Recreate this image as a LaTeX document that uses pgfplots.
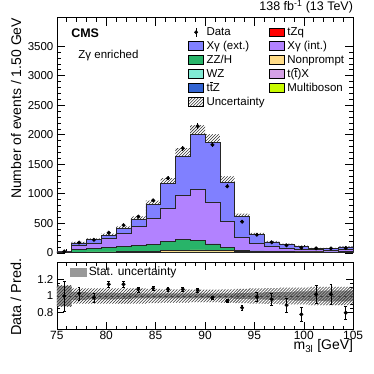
\documentclass[border=0pt]{standalone}
\usepackage{fontspec}
\setmainfont{Liberation Sans}
\usepackage{pgfplots}
\pgfplotsset{compat=1.18}
\usepackage{pgfplotstable}
\usepgfplotslibrary{fillbetween}
\usetikzlibrary{patterns}

\definecolor{cxext}{RGB}{128,128,255}
\definecolor{cxint}{RGB}{178,130,255}
\definecolor{czz}{RGB}{40,180,105}
\definecolor{cwz}{RGB}{128,235,212}
\definecolor{cttz}{RGB}{50,100,210}
\definecolor{ctzq}{RGB}{255,0,0}
\definecolor{cnp}{RGB}{255,220,135}
\definecolor{cttx}{RGB}{212,160,230}
\definecolor{cmb}{RGB}{200,250,0}

% denser ROOT-like hatching
\pgfdeclarepatternformonly{hatch}{\pgfqpoint{-1pt}{-1pt}}{\pgfqpoint{4pt}{4pt}}{\pgfqpoint{3pt}{3pt}}{%
  \pgfsetlinewidth{0.55pt}
  \pgfpathmoveto{\pgfqpoint{-0.1pt}{-0.1pt}}
  \pgfpathlineto{\pgfqpoint{3.1pt}{3.1pt}}
  \pgfusepath{stroke}}

% stacked MC per bin (left edge), last row repeats the last bin
\pgfplotstableread{
x     mb   ttx  ttz  tzq  wz   np  zz   xint xext stat  tot
75.0  1.2  0.45 0.45 0.3  0.6  2   3    6    8    0.12  0.13
76.5  2.0  0.75 0.75 0.5  1.0  7   43   74   39   0.05  0.09
78.0  2.4  0.9  0.9  0.6  1.2  8   56   87   68   0.04  0.09
79.5  2.8  1.05 1.05 0.7  1.4  9   79   147  56   0.04  0.09
81.0  3.2  1.2  1.2  0.8  1.6  10  92   216  84   0.035 0.09
82.5  3.6  1.35 1.35 0.9  1.8  11  110  320  117  0.03  0.09
84.0  4.0  1.5  1.5  1.0  2.0  14  121  434  236  0.03  0.085
85.5  4.8  1.8  1.8  1.2  2.4  28  155  564  410  0.03  0.08
87.0  5.6  2.1  2.1  1.4  2.8  31  185  737  673  0.03  0.08
88.5  6.0  2.25 2.25 1.5  3.0  33  167  853  938  0.03  0.075
90.0  5.6  2.1  2.1  1.4  2.8  28  108  710  1005 0.03  0.075
91.5  5.2  1.95 1.95 1.3  2.6  23  59   439  663  0.03  0.08
93.0  4.8  1.8  1.8  1.2  2.4  14  14   224  348  0.035 0.085
94.5  4.0  1.5  1.5  1.0  2.0  12  10   125  152  0.04  0.09
96.0  3.6  1.35 1.35 0.9  1.8  11  8    84   73   0.045 0.095
97.5  3.2  1.2  1.2  0.8  1.6  14  4    58   56   0.05  0.1
99.0  3.2  1.2  1.2  0.8  1.6  8   6    45   45   0.055 0.1
100.5 2.8  1.05 1.05 0.7  1.4  7   6    36   17   0.06  0.11
102.0 2.4  0.9  0.9  0.6  1.2  6   5    34   22   0.065 0.11
103.5 2.8  1.05 1.05 0.7  1.4  6   6    37   45   0.065 0.11
105.0 2.8  1.05 1.05 0.7  1.4  6   6    37   45   0.065 0.11
}\bins

% data at bin centres
\pgfplotstableread{
x      data derr r    rerr
75.75  22   4.7  1.00 0.18
77.25  173  13   1.03 0.08
78.75  220  15   0.98 0.05
80.25  340  18   1.14 0.04
81.75  467  22   1.14 0.035
83.25  612  25   1.08 0.03
84.75  888  30   1.09 0.025
86.25  1263 36   1.08 0.02
87.75  1771 42   1.08 0.02
89.25  2146 46   1.07 0.02
90.75  1828 43   0.98 0.02
92.25  1125 34   0.94 0.02
93.75  526  23   0.86 0.03
95.25  306  17.5 0.99 0.05
96.75  178  13   0.96 0.07
98.25  125  11   0.89 0.08
99.75  87   9    0.78 0.08
101.25 74   8.6  1.02 0.11
102.75 74   8.6  1.02 0.12
104.25 81   9    0.80 0.08
}\datatab

\newcommand{\cA}{\thisrow{mb}}
\newcommand{\cB}{\cA+\thisrow{ttx}}
\newcommand{\cC}{\cB+\thisrow{ttz}}
\newcommand{\cD}{\cC+\thisrow{tzq}}
\newcommand{\cE}{\cD+\thisrow{wz}}
\newcommand{\cF}{\cE+\thisrow{np}}
\newcommand{\cG}{\cF+\thisrow{zz}}
\newcommand{\cH}{\cG+\thisrow{xint}}
\newcommand{\cI}{\cH+\thisrow{xext}}

\newcommand{\legbox}[1]{\addlegendimage{legend image code/.code={\draw[fill=#1,draw=black,line width=0.5pt] (0pt,-4.5pt) rectangle (15pt,4.5pt);}}}

\pgfplotsset{
  cmsaxis/.style={
    scale only axis, width=297pt,
    xmin=75, xmax=105,
    xtick={75,80,...,105}, minor x tick num=4,
    tick align=inside,
    axis line style={line width=0.7pt},
    tick style={black, line width=0.5pt},
    /pgf/number format/assume math mode=true,
    /pgf/number format/1000 sep={},
    ticklabel style={font=\fontsize{11.5}{13}\selectfont},
  },
  stk/.style={const plot, draw=black!85, line width=0.5pt, fill=#1, forget plot},
}

\begin{document}
\begin{tikzpicture}

\begin{axis}[
  cmsaxis,
  at={(57pt,121.5pt)}, anchor=south west, height=235.5pt,
  ymin=0, ymax=3978,
  ytick={0,500,...,3500}, minor y tick num=4,
  xticklabels={},
  major tick length=8pt, minor tick length=4pt,
  ylabel={Number of events / 1.50 GeV},
  ylabel style={font=\fontsize{14}{16}\selectfont, at={(rel axis cs:0,1)}, anchor=south east, inner sep=0pt, yshift=35.5pt},
  title={138 fb\textsuperscript{-1} (13 TeV)},
  title style={font=\fontsize{12.5}{14}\selectfont, at={(rel axis cs:1,1)}, anchor=base east, inner sep=0pt, yshift=1.5pt},
  legend style={draw=none, fill=none, inner sep=0pt, outer sep=0pt,
    at={(rel axis cs:0.444,0.962)}, anchor=north west,
    font=\fontsize{11.5}{13}\selectfont, row sep=3pt,
    nodes={inner sep=0pt, text height=8.5pt, text depth=2.5pt},
    /tikz/every odd column/.style={column sep=2.7pt},
    /tikz/every even column/.style={column sep=4.6pt}},
  legend columns=2, legend cell align=left,
]
\addlegendimage{legend image code/.code={\draw[black,line width=0.6pt] (7.5pt,-4.5pt)--(7.5pt,4.5pt); \fill[black] (7.5pt,0pt) circle (1.8pt);}}
\addlegendentry{Data}
\legbox{ctzq}\addlegendentry{tZq}
\legbox{cxext}\addlegendentry{X$\hbox{γ}$ (ext.)}
\legbox{cxint}\addlegendentry{X$\hbox{γ}$ (int.)}
\legbox{czz}\addlegendentry{ZZ/H}
\legbox{cnp}\addlegendentry{Nonprompt}
\legbox{cwz}\addlegendentry{WZ}
\legbox{cttx}\addlegendentry{t($\overline{\hbox{t}}$)X}
\legbox{cttz}\addlegendentry{t$\overline{\hbox{t}}$Z}
\legbox{cmb}\addlegendentry{Multiboson}
\addlegendimage{legend image code/.code={\fill[pattern=hatch, pattern color=black!80] (0pt,-4.5pt) rectangle (15pt,4.5pt);}}
\addlegendentry{Uncertainty}

\addplot[stk=cxext] table[x=x, y expr=\cI] {\bins} \closedcycle;
\addplot[stk=cxint] table[x=x, y expr=\cH] {\bins} \closedcycle;
\addplot[stk=czz]   table[x=x, y expr=\cG] {\bins} \closedcycle;
\addplot[stk=cnp]   table[x=x, y expr=\cF] {\bins} \closedcycle;
\addplot[stk=cwz]   table[x=x, y expr=\cE] {\bins} \closedcycle;
\addplot[stk=ctzq]  table[x=x, y expr=\cD] {\bins} \closedcycle;
\addplot[stk=cttz]  table[x=x, y expr=\cC] {\bins} \closedcycle;
\addplot[stk=cttx]  table[x=x, y expr=\cB] {\bins} \closedcycle;
\addplot[stk=cmb]   table[x=x, y expr=\cA] {\bins} \closedcycle;

\addplot[const plot, draw=none, name path=uhi, forget plot] table[x=x, y expr=(\cI)*(1+\thisrow{tot})] {\bins};
\addplot[const plot, draw=none, name path=ulo, forget plot] table[x=x, y expr=(\cI)*(1-\thisrow{tot})] {\bins};
\addplot[pattern=hatch, pattern color=black!80, forget plot] fill between[of=uhi and ulo];

\addplot[only marks, mark=*, mark size=1.8pt, black, forget plot,
  error bars/.cd, y dir=both, y explicit, error mark=none,
  error bar style={line width=0.6pt}]
  table[x=x, y=data, y error=derr] {\datatab};

\node[anchor=base west, font=\fontsize{12.5}{14}\selectfont\bfseries] at (rel axis cs:0.037,0.916) {CMS};
\node[anchor=base west, font=\fontsize{11.5}{13}\selectfont] at (rel axis cs:0.061,0.829) {Z$\hbox{γ}$ enriched};
\end{axis}

\begin{axis}[
  cmsaxis,
  at={(57pt,44.7pt)}, anchor=south west, height=67pt,
  ymin=0.6, ymax=1.4,
  ytick={0.8,1,1.2}, minor y tick num=3,
  major tick length=7pt, minor tick length=3.5pt,
  xticklabel style={font=\fontsize{12}{14}\selectfont, yshift=1.5pt},
  xlabel={m\textsubscript{3l} [GeV]},
  xlabel style={font=\fontsize{14}{16}\selectfont, at={(rel axis cs:1,0)}, anchor=base east, inner sep=0pt, yshift=-20.5pt},
  ylabel={Data / Pred.},
  ylabel style={font=\fontsize{14.5}{16}\selectfont, at={(rel axis cs:0,1)}, anchor=south east, inner sep=0pt, yshift=35.5pt, xshift=4pt},
  legend style={draw=none, fill=none, inner sep=0pt, outer sep=0pt,
    at={(rel axis cs:0.044,0.945)}, anchor=north west,
    font=\fontsize{12}{14}\selectfont,
    nodes={inner sep=0pt, text height=9pt, text depth=2.5pt},
    /tikz/every odd column/.style={column sep=2.5pt}},
  legend cell align=left,
]
\addlegendimage{legend image code/.code={\fill[black!40] (0pt,-4.2pt) rectangle (16pt,4.2pt);}}
\addlegendentry{Stat. uncertainty}

\addplot[const plot, draw=none, name path=shi, forget plot] table[x=x, y expr=1+\thisrow{stat}] {\bins};
\addplot[const plot, draw=none, name path=slo, forget plot] table[x=x, y expr=1-\thisrow{stat}] {\bins};
\addplot[fill=black!40, draw=none, forget plot] fill between[of=shi and slo];

\addplot[const plot, draw=none, name path=thi, forget plot] table[x=x, y expr=1+\thisrow{tot}] {\bins};
\addplot[const plot, draw=none, name path=tlo, forget plot] table[x=x, y expr=1-\thisrow{tot}] {\bins};
\addplot[pattern=hatch, pattern color=black!80, forget plot] fill between[of=thi and tlo];

\addplot[dashed, black!75, line width=0.8pt, forget plot] coordinates {(75,1) (105,1)};

\addplot[only marks, mark=*, mark size=1.8pt, black, forget plot,
  error bars/.cd, y dir=both, y explicit,
  error mark options={rotate=90, mark size=1.4pt, line width=0.5pt},
  error bar style={line width=0.6pt}]
  table[x=x, y=r, y error=rerr] {\datatab};
\end{axis}
\path (0pt,0pt) rectangle (374pt,374pt);
\end{tikzpicture}
\end{document}
